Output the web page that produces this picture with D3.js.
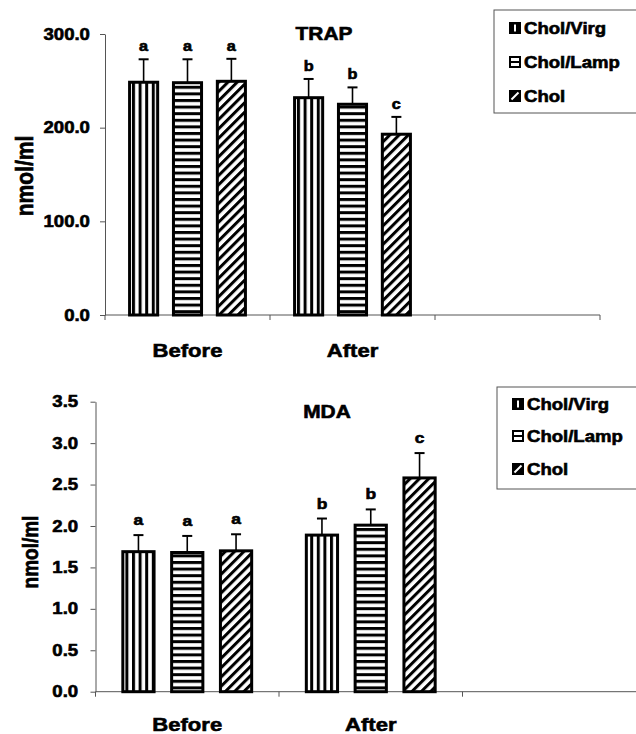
<!DOCTYPE html>
<html>
<head>
<meta charset="utf-8">
<script src="https://cdn.jsdelivr.net/npm/d3@7"></script>
<style>
  body { margin: 0; background: #fff; }
  text { font-family: "Liberation Sans", Arial, sans-serif; font-weight: bold; fill: #000; stroke: #000; stroke-width: 0.6px; }
</style>
</head>
<body>
<div id="chart-area"></div>
<script>
// data
var series = ["Chol/Virg", "Chol/Lamp", "Chol"];
var periods = ["Before", "After", ""];

var trapTicks = [0, 100, 200, 300];
var trapMeans = [[248.5, 248, 249.5], [232, 225, 193]];
var trapErrors = [[24.5, 25, 24], [20, 18, 18.5]];
var trapLetters = [["a", "a", "a"], ["b", "b", "c"]];

var mdaTicks = [0, 0.5, 1, 1.5, 2, 2.5, 3, 3.5];
var mdaMeans = [[1.69, 1.68, 1.70], [1.89, 2.01, 2.58]];
var mdaErrors = [[0.20, 0.20, 0.20], [0.20, 0.19, 0.30]];
var mdaLetters = [["a", "a", "a"], ["b", "b", "c"]];

var width = 636;
var height = 734;
var stretch = 1.16; // the scan is a bit wider than the font

var svg = d3.select("#chart-area")
  .append("svg")
  .attr("width", width)
  .attr("height", height)
  .style("background", "#fff");

// hatch patterns
var defs = svg.append("defs");
var pv = defs.append("pattern").attr("id", "p0")
  .attr("patternUnits", "userSpaceOnUse").attr("width", 6.6).attr("height", 10);
pv.append("rect").attr("width", 6.6).attr("height", 10).attr("fill", "#fff");
pv.append("rect").attr("width", 3).attr("height", 10).attr("fill", "#000");

var ph = defs.append("pattern").attr("id", "p1")
  .attr("patternUnits", "userSpaceOnUse").attr("width", 10).attr("height", 6.6);
ph.append("rect").attr("width", 10).attr("height", 6.6).attr("fill", "#fff");
ph.append("rect").attr("width", 10).attr("height", 3).attr("fill", "#000");

var pd = defs.append("pattern").attr("id", "p2")
  .attr("patternUnits", "userSpaceOnUse").attr("width", 6.6).attr("height", 10)
  .attr("patternTransform", "rotate(45)");
pd.append("rect").attr("width", 6.6).attr("height", 10).attr("fill", "#fff");
pd.append("rect").attr("width", 3).attr("height", 10).attr("fill", "#000");

function label(x, y, txt, size, anchor, extra) {
  return svg.append("text")
    .attr("transform", "translate(" + x + "," + y + ") scale(" + stretch + ",1)" + (extra || ""))
    .attr("text-anchor", anchor || "middle")
    .attr("font-size", size + "px")
    .text(txt);
}

function drawPanel(p) {
  var x = d3.scaleBand().domain(periods).range([p.x0, p.x1]);
  var xi = d3.scaleBand().domain(series).range([0, x.bandwidth()])
    .paddingInner(0.36).paddingOuter(0.56);
  var y = d3.scaleLinear().domain([0, d3.max(p.ticks)]).range([p.yBottom, p.yTop]);

  // y axis
  var yAxisG = svg.append("g")
    .attr("transform", "translate(" + p.x0 + ",0)")
    .call(d3.axisLeft(y).tickValues(p.ticks).tickSize(5).tickSizeOuter(0)
      .tickPadding(p.tickPad).tickFormat(d3.format(".1f")));
  yAxisG.select(".domain").attr("stroke", "#555");
  yAxisG.selectAll(".tick line").attr("stroke", "#555");
  yAxisG.selectAll(".tick text")
    .attr("font-size", "16px")
    .attr("font-family", null)
    .attr("transform", "scale(" + stretch + ",1)");

  // x axis: line + ticks at category boundaries
  var bounds = periods.map(d => x(d)).concat([p.x1]);
  svg.append("line")
    .attr("x1", p.x0).attr("x2", p.x1)
    .attr("y1", y(0)).attr("y2", y(0))
    .attr("stroke", "#555");
  svg.selectAll(null).data(bounds).enter().append("line")
    .attr("x1", d => d).attr("x2", d => d)
    .attr("y1", y(0)).attr("y2", y(0) + 5)
    .attr("stroke", "#555");

  periods.slice(0, 2).forEach(d => {
    label(x(d) + x.bandwidth() / 2, p.catY, d, 19);
  });

  // bars
  var rows = [];
  periods.slice(0, 2).forEach((per, i) => {
    series.forEach((s, j) => {
      rows.push({ per: per, s: s, j: j, v: p.means[i][j], e: p.errors[i][j], l: p.letters[i][j] });
    });
  });

  var g = svg.append("g");
  g.selectAll("line.err").data(rows).enter().append("line")
    .attr("class", "err")
    .attr("x1", d => x(d.per) + xi(d.s) + xi.bandwidth() / 2)
    .attr("x2", d => x(d.per) + xi(d.s) + xi.bandwidth() / 2)
    .attr("y1", d => y(d.v))
    .attr("y2", d => y(d.v + d.e))
    .attr("stroke", "#000").attr("stroke-width", 1.6);
  g.selectAll("line.cap").data(rows).enter().append("line")
    .attr("class", "cap")
    .attr("x1", d => x(d.per) + xi(d.s) + xi.bandwidth() / 2 - 5)
    .attr("x2", d => x(d.per) + xi(d.s) + xi.bandwidth() / 2 + 5)
    .attr("y1", d => y(d.v + d.e))
    .attr("y2", d => y(d.v + d.e))
    .attr("stroke", "#000").attr("stroke-width", 2);
  g.selectAll("rect").data(rows).enter().append("rect")
    .attr("x", d => x(d.per) + xi(d.s))
    .attr("y", d => y(d.v))
    .attr("width", xi.bandwidth())
    .attr("height", d => y(0) - y(d.v))
    .attr("fill", d => "url(#p" + d.j + ")")
    .attr("stroke", "#000")
    .attr("stroke-width", 3);

  rows.forEach(d => {
    label(x(d.per) + xi(d.s) + xi.bandwidth() / 2, y(d.v + d.e) - p.letterGap, d.l, p.letterSize);
  });

  // title + y label
  label(p.titleX, p.titleY, p.title, 18);
  label(p.labelX, p.labelY, "nmol/ml", p.labelSize, "middle", " rotate(-90)");

  // legend
  var lg = p.legend;
  svg.append("rect")
    .attr("x", lg.x).attr("y", lg.y)
    .attr("width", lg.w).attr("height", lg.h)
    .attr("fill", "none").attr("stroke", "#555");
  series.forEach((s, j) => {
    var by = lg.rows[j];
    var sx = lg.x + 15, sy = by - 12, sw = 12;
    if (j === 0) {
      svg.append("rect").attr("x", sx).attr("y", sy).attr("width", sw).attr("height", sw).attr("fill", "#000");
      svg.append("rect").attr("x", sx + sw / 2 - 1).attr("y", sy + 2.5).attr("width", 2).attr("height", sw - 5).attr("fill", "#fff");
    } else if (j === 1) {
      svg.append("rect").attr("x", sx + 1).attr("y", sy + 1).attr("width", sw - 2).attr("height", sw - 2)
        .attr("fill", "#fff").attr("stroke", "#000").attr("stroke-width", 2);
      svg.append("line").attr("x1", sx + 1).attr("x2", sx + sw - 1).attr("y1", sy + sw / 2).attr("y2", sy + sw / 2)
        .attr("stroke", "#000").attr("stroke-width", 2);
    } else {
      svg.append("rect").attr("x", sx).attr("y", sy).attr("width", sw).attr("height", sw).attr("fill", "#000");
      svg.append("line").attr("x1", sx + 2.5).attr("x2", sx + sw - 2.5).attr("y1", sy + sw - 2.5).attr("y2", sy + 2.5)
        .attr("stroke", "#fff").attr("stroke-width", 2);
    }
    label(lg.x + 30, by, s, 16, "start");
  });
}

drawPanel({
  title: "TRAP", ticks: trapTicks, means: trapMeans, errors: trapErrors, letters: trapLetters,
  x0: 105, x1: 600, yTop: 34, yBottom: 315, tickPad: 8,
  titleX: 324, titleY: 40, labelX: 33, labelY: 176, labelSize: 21, catY: 357,
  letterGap: 8, letterSize: 14,
  legend: { x: 494, y: 10, w: 145, h: 103, rows: [34, 68, 102] }
});

drawPanel({
  title: "MDA", ticks: mdaTicks, means: mdaMeans, errors: mdaErrors, letters: mdaLetters,
  x0: 95.5, x1: 646, yTop: 401.7, yBottom: 691.7, tickPad: 10,
  titleX: 327, titleY: 418, labelX: 38, labelY: 552, labelSize: 19, catY: 731,
  letterGap: 10, letterSize: 15,
  legend: { x: 497, y: 387, w: 145, h: 102, rows: [410, 442, 475] }
});
</script>
</body>
</html>
